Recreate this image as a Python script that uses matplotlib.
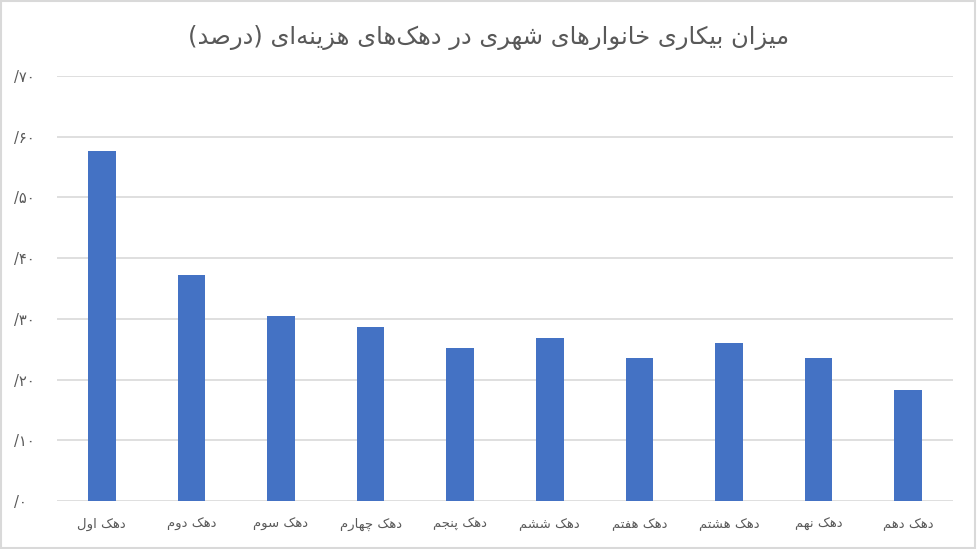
import matplotlib
matplotlib.use('Agg')
import matplotlib.pyplot as plt
from matplotlib.ticker import FuncFormatter, MultipleLocator
from matplotlib.patches import Rectangle

# Chart data (unemployment share, urban households by expenditure decile)
deciles = ['دهک اول', 'دهک دوم', 'دهک سوم', 'دهک چهارم', 'دهک پنجم',
           'دهک ششم', 'دهک هفتم', 'دهک هشتم', 'دهک نهم', 'دهک دهم']
rates = [0.577, 0.372, 0.305, 0.287, 0.252, 0.268, 0.236, 0.260, 0.236, 0.183]
title = 'میزان بیکاری خانوارهای شهری در دهک‌های هزینه‌ای (درصد)'

# Arabic/Persian letter forms: isolated, final, initial, medial
forms = {
    'ا': ('\uFE8D', '\uFE8E', None, None),
    'ب': ('\uFE8F', '\uFE90', '\uFE91', '\uFE92'),
    'پ': ('\uFB56', '\uFB57', '\uFB58', '\uFB59'),
    'ت': ('\uFE95', '\uFE96', '\uFE97', '\uFE98'),
    'ج': ('\uFE9D', '\uFE9E', '\uFE9F', '\uFEA0'),
    'چ': ('\uFB7A', '\uFB7B', '\uFB7C', '\uFB7D'),
    'خ': ('\uFEA5', '\uFEA6', '\uFEA7', '\uFEA8'),
    'د': ('\uFEA9', '\uFEAA', None, None),
    'ر': ('\uFEAD', '\uFEAE', None, None),
    'ز': ('\uFEAF', '\uFEB0', None, None),
    'س': ('\uFEB1', '\uFEB2', '\uFEB3', '\uFEB4'),
    'ش': ('\uFEB5', '\uFEB6', '\uFEB7', '\uFEB8'),
    'ص': ('\uFEB9', '\uFEBA', '\uFEBB', '\uFEBC'),
    'ف': ('\uFED1', '\uFED2', '\uFED3', '\uFED4'),
    'ک': ('\uFB8E', '\uFB8F', '\uFB90', '\uFB91'),
    'ل': ('\uFEDD', '\uFEDE', '\uFEDF', '\uFEE0'),
    'م': ('\uFEE1', '\uFEE2', '\uFEE3', '\uFEE4'),
    'ن': ('\uFEE5', '\uFEE6', '\uFEE7', '\uFEE8'),
    'ه': ('\uFEE9', '\uFEEA', '\uFEEB', '\uFEEC'),
    'و': ('\uFEED', '\uFEEE', None, None),
    'ی': ('\uFBFC', '\uFBFD', '\uFBFE', '\uFBFF'),
}


def shape_rtl(text):
    out = []
    for i, ch in enumerate(text):
        if ch not in forms:
            if ch != '\u200c':
                out.append(ch)
            continue
        prev = text[i - 1] if i > 0 else ''
        nxt = text[i + 1] if i + 1 < len(text) else ''
        join_prev = prev in forms and forms[prev][2] is not None
        join_next = forms[ch][2] is not None and nxt in forms
        iso, fin, ini, med = forms[ch]
        if join_prev and join_next:
            out.append(med)
        elif join_prev:
            out.append(fin)
        elif join_next:
            out.append(ini)
        else:
            out.append(iso)
    swap = {'(': ')', ')': '('}
    return ''.join(swap.get(c, c) for c in reversed(out))


def persian_tick(v, pos):
    digits = str(abs(int(round(v * 100))))
    return '/' + ''.join(chr(0x06F0 + int(d)) for d in digits)


plt.rcParams['font.family'] = ['DejaVu Sans']

fig = plt.figure(figsize=(9.77, 5.49), dpi=100)
ax = fig.add_axes([57 / 977, 48 / 549, 896 / 977, 425 / 549])

ax.bar(range(len(deciles)), rates, width=0.31, color='#4472C4', zorder=3)

ax.set_xlim(-0.5, len(deciles) - 0.5)
ax.set_ylim(0, 0.70)
ax.yaxis.set_major_locator(MultipleLocator(0.1))
ax.yaxis.set_major_formatter(FuncFormatter(persian_tick))
ax.set_xticks(range(len(deciles)))
ax.set_xticklabels([shape_rtl(d) for d in deciles])

ax.grid(axis='y', color='#D9D9D9', linewidth=1.2, zorder=0)
for s in ax.spines.values():
    s.set_visible(False)
ax.tick_params(axis='x', length=0, colors='#595959', labelsize=9.5, pad=12)
ax.tick_params(axis='y', length=0, colors='#595959', labelsize=10.5, pad=31)
for lbl in ax.get_yticklabels():
    lbl.set_horizontalalignment('left')

fig.text(0.5, 1 - 38 / 549, shape_rtl(title), ha='center', va='center',
         fontsize=17.5, color='#595959')

fig.patches.append(Rectangle((0.001, 0.001), 0.997, 0.997, transform=fig.transFigure,
                             fill=False, edgecolor='#D9D9D9', linewidth=1.5))

plt.savefig('out.png', dpi=100)
plt.close()
